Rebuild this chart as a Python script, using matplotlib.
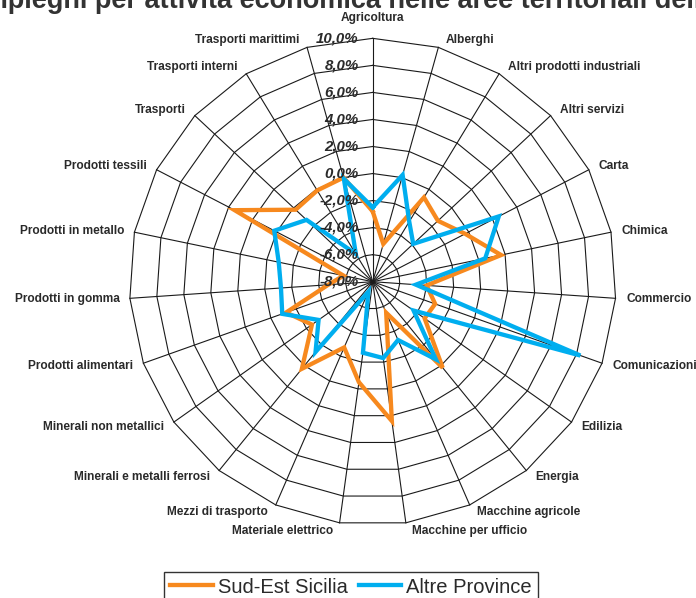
import numpy as np
import matplotlib
matplotlib.use("Agg")
import matplotlib.pyplot as plt
from matplotlib.lines import Line2D

# Sectors shown on the radar, clockwise from the top
categories = [
    "Agricoltura", "Alberghi", "Altri prodotti industriali", "Altri servizi",
    "Carta", "Chimica", "Commercio", "Comunicazioni", "Edilizia", "Energia",
    "Macchine agricole", "Macchine per ufficio", "Materiale elettrico",
    "Mezzi di trasporto", "Minerali e metalli ferrosi", "Minerali non metallici",
    "Prodotti alimentari", "Prodotti in gomma", "Prodotti in metallo",
    "Prodotti tessili", "Trasporti", "Trasporti interni", "Trasporti marittimi",
]

# Percentage change of loans by sector
sud_est_sicilia = [-2.8, -5.1, -0.7, -1.4, -0.3, 1.7, -4.0, -3.1, -3.3, 0.2,
                   -5.5, 2.4, -0.5, -2.7, 0.3, -2.5, -1.2, -4.7, -5.8, 3.5,
                   -0.2, -0.1, 0.0]
altre_province = [-2.5, 0.2, -2.8, -3.9, 2.5, 0.5, -4.8, 8.3, -4.3, -0.6,
                  -3.3, -2.3, -2.7, -7.2, -1.3, -3.1, -0.9, -1.2, -0.9, 0.2,
                  -1.3, -5.6, -0.1]

series_names = ["Sud-Est Sicilia", "Altre Province"]
ring_values = [-8, -6, -4, -2, 0, 2, 4, 6, 8, 10]
ring_labels = ["-8,0%", "-6,0%", "-4,0%", "-2,0%", "0,0%",
               "2,0%", "4,0%", "6,0%", "8,0%", "10,0%"]
title_text = "Impieghi per attività economica nelle aree territoriali della Sicilia"

ORANGE = "#F7891E"
BLUE = "#00AEEF"
GRID = "#1a1a1a"
TEXT = "#2a2a2a"

fig = plt.figure(figsize=(6.96, 5.98), dpi=100)
fig.patch.set_facecolor("white")

ax = fig.add_axes([0.1858, 0.1219, 0.6994, 0.814], projection="polar")
ax.set_theta_offset(np.pi / 2)
ax.set_theta_direction(-1)
ax.set_ylim(ring_values[0], ring_values[-1])
ax.grid(False)
ax.set_xticks([])
ax.set_yticks([])
ax.spines["polar"].set_visible(False)
ax.patch.set_visible(False)

n = len(categories)
theta = np.arange(n) * 2 * np.pi / n
closed = np.append(theta, theta[0])

# polygonal rings and spokes
for v in ring_values[1:]:
    ax.plot(closed, [v] * (n + 1), color=GRID, lw=0.8, zorder=1, clip_on=False)
for t in theta:
    ax.plot([t, t], [ring_values[0], ring_values[-1]], color=GRID, lw=0.8,
            zorder=1, clip_on=False)

# data series
for vals, col, z in [(sud_est_sicilia, ORANGE, 3), (altre_province, BLUE, 4)]:
    ax.plot(closed, vals + [vals[0]], color=col, lw=3.1, zorder=z,
            solid_joinstyle="miter", clip_on=False)

# radial scale labels along the top spoke
for v, lab in zip(ring_values, ring_labels):
    ax.annotate(lab, xy=(0, v), xytext=(-14, 0), textcoords="offset pixels",
                ha="right", va="center", fontsize=10.8, fontweight="bold",
                fontstyle="italic", color=TEXT, family="Liberation Sans",
                annotation_clip=False, zorder=5)

# sector names around the outer ring
for t, name in zip(theta, categories):
    s, c = np.sin(t), np.cos(t)
    if abs(s) < 0.05:
        ha, dx, dy = "center", 0, 20
    else:
        ha = "left" if s > 0 else "right"
        dx = np.sign(s) * (6 + 4.5 * abs(s))
        dy = 8 * c
    ax.annotate(name, xy=(t, ring_values[-1]), xytext=(dx, dy),
                textcoords="offset pixels", ha=ha, va="center", fontsize=8.6,
                fontweight="bold", color=TEXT, family="Liberation Sans",
                annotation_clip=False)

fig.text(-0.034, 1 - 8 / 598, title_text, ha="left", va="baseline",
         fontsize=19.5, fontweight="bold", color="#333333",
         family="Liberation Sans")

handles = [Line2D([], [], color=ORANGE, lw=3.1),
           Line2D([], [], color=BLUE, lw=3.1)]
leg = fig.legend(handles, series_names, loc="upper center",
                 bbox_to_anchor=(351 / 696, 1 - 571.5 / 598), ncol=2,
                 frameon=True, fancybox=False, edgecolor="black",
                 handlelength=2.1, handletextpad=0.25, columnspacing=0.55,
                 borderpad=0.3, borderaxespad=0,
                 prop={"family": "Liberation Sans", "size": 14.5})
leg.get_frame().set_linewidth(1.0)
for txt in leg.get_texts():
    txt.set_color(TEXT)

fig.savefig("out.png", dpi=100, facecolor="white")
